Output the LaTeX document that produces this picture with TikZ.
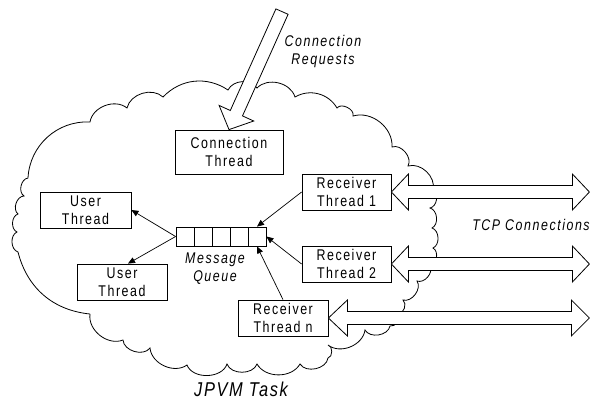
\documentclass[tikz,border=0pt]{standalone}
\usepackage{fontspec}
\setmainfont{Liberation Sans}
\newfontfamily\labfont[FakeStretch=0.8,LetterSpace=10]{Liberation Sans}
\newfontfamily\bigfont[FakeStretch=0.82,LetterSpace=8]{Liberation Sans}
\usetikzlibrary{arrows.meta,calc}
\tikzset{
 box/.style={draw, line width=0.8pt, fill=white, align=center, inner sep=0pt,
   font=\fontsize{15.5}{18.5}\selectfont\labfont, minimum height=36pt},
 cell/.style={draw, line width=0.8pt, fill=white, minimum width=18pt, minimum height=19pt, inner sep=0pt},
 lbl/.style={align=center, inner sep=0pt, font=\fontsize{15.5}{18}\selectfont\labfont\itshape},
 biglbl/.style={inner sep=0pt, font=\fontsize{20}{22}\selectfont\bigfont\itshape},
 link/.style={line width=0.7pt, -{Triangle[length=7pt,width=6pt]}},
 hollow/.style={draw, line width=0.8pt, fill=white, line join=miter},
 cloudline/.style={draw, line width=0.8pt}
}
\begin{document}
\begin{tikzpicture}[x=1pt,y=-1pt]
\useasboundingbox (0,0) rectangle (596,400);
% cloud outline
\draw[cloudline] (90,314) to[bend left=35] (18,252) to[bend left=70] (17,232)
  to[bend left=70] (18,214) to[bend left=70] (24,196) to[bend left=70] (28,178)
  to[bend left=45] (90,122) to[bend left=60] (127,108) to[bend left=60] (163,97)
  to[bend left=40] (228,90) to[bend left=60] (257,88) to[bend left=60] (295,97)
  to[bend left=45] (337,108) to[bend left=80] (353,116) to[bend left=55] (392,147)
  to[bend left=70] (408,166) to[bend left=60] (433,190) to[bend left=70] (430,208)
  to[bend left=70] (432,228) to[bend left=70] (433,248) to[bend left=70] (430,266)
  to[bend left=70] (417,281) to[bend left=70] (403,300) to[bend left=70] (398,314)
  to[bend left=70] (390,326) to[bend left=70] (365,330) to[bend left=60] (328,345)
  to[bend left=80] (328,358) to[bend left=70] (300,364) to[bend left=60] (257,364)
  to[bend left=70] (227,364) to[bend left=70] (187,365) to[bend left=60] (150,348)
  to[bend left=70] (123,340) to[bend left=60] (90,314);
% boxes
\node[box, minimum width=108pt, minimum height=44pt] (ct) at (229,152) {Connection\\Thread};
\node[box, minimum width=89pt] (rt1) at (346.5,192) {Receiver\\Thread 1};
\node[box, minimum width=89pt] (rt2) at (346.5,264) {Receiver\\Thread 2};
\node[box, minimum width=90pt] (rtn) at (283,318) {Receiver\\Thread n};
\node[box, minimum width=91pt] (ut1) at (85.5,210) {User\\Thread};
\node[box, minimum width=90pt] (ut2) at (122,282) {User\\Thread};
\foreach \i/\x in {1/185,2/203,3/221,4/239,5/257}
  \node[cell] (q\i) at (\x,236.5) {};
% connection request arrow
\draw[hollow, shift={(ct.north)}] (0,0) -- (24.7,-8.6) -- (13.5,-13.7) -- (59.1,-115.3)
  -- (46.9,-120.7) -- (1.3,-19.1) -- (-9.9,-24.2) -- cycle;
% TCP double arrows
\draw[hollow, shift={(rt1.east)}] (0,0) -- (17,-18) -- (17,-6.5) -- (181,-6.5) -- (181,-18)
  -- (198,0) -- (181,18) -- (181,6.5) -- (17,6.5) -- (17,18) -- cycle;
\draw[hollow, shift={(rt2.east)}] (0,0) -- (17,-18) -- (17,-6.5) -- (181,-6.5) -- (181,-18)
  -- (198,0) -- (181,18) -- (181,6.5) -- (17,6.5) -- (17,18) -- cycle;
\draw[hollow, shift={(rtn.east)}] (0,0) -- (19,-18) -- (19,-6.5) -- (243,-6.5) -- (243,-18)
  -- (261,0) -- (243,18) -- (243,6.5) -- (19,6.5) -- (19,18) -- cycle;
% links
\draw[link] (q1.west) -- (ut1.east);
\draw[link] (q1.west) -- (ut2.72);
\draw[link] (rt1.west) -- (q5.north);
\draw[link] (rt2.west) -- (q5.east);
\draw[link] (rtn.north) -- (q5.south);
% labels
\node[lbl, anchor=north] (cr) at (323,35) {Connection\\Requests};
\node[lbl, anchor=north] (mq) at (215,253) {Message\\Queue};
\node[lbl, anchor=base] (tcp) at (531,230) {TCP Connections};
\node[biglbl, anchor=base] (task) at (241,396) {JPVM Task};
\end{tikzpicture}
\end{document}
